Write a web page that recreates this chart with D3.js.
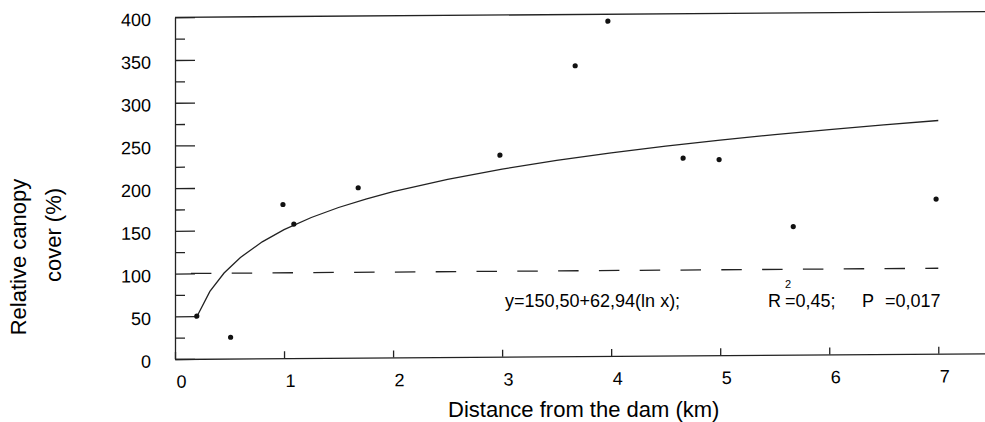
<!DOCTYPE html>
<html>
<head>
<meta charset="utf-8">
<script src="https://cdn.jsdelivr.net/npm/d3@7"></script>
<style>
  body { margin: 0; background: #fff; }
  svg { display: block; }
  text { font-family: "Liberation Sans", Arial, Helvetica, sans-serif; fill: #000; }
</style>
</head>
<body>
<svg id="chart" width="985" height="422"></svg>
<script>

// data

var distance = [0.2, 0.51, 0.99, 1.09, 1.68, 2.98, 3.67, 3.97, 4.66, 4.99, 5.67, 6.98];
var canopy = [50, 25, 180, 157, 199, 236, 340, 392, 231, 229, 150, 181];

// fitted curve y = a + b ln x, from the equation printed on the chart

var fitIntercept = 150.50;
var fitSlope = 62.94;
var fitX = [0.2, 0.32, 0.45, 0.6, 0.8, 1, 1.25, 1.5, 1.75, 2, 2.5, 3, 3.5, 4, 4.5, 5, 5.5, 6, 6.5, 7];

var referenceLevel = 100;
var xTicks = [0, 1, 2, 3, 4, 5, 6, 7];
var yTicks = [0, 50, 100, 150, 200, 250, 300, 350, 400];
var yMinorTicks = [25, 75, 125, 175, 225, 275, 325, 375];

var svg = d3.select('#chart');

// scales

var x = d3.scaleLinear().domain([0, 7.5]).range([175, 992.8]);
var y = d3.scaleLinear().domain([0, 400]).range([359, 17.3]);

// the scanned figure is slightly skewed, so tilt the plot a little

var plot = svg.append('g')
  .attr('transform', 'translate(175,359) skewY(-0.4) translate(-175,-359)');

// y axis, ticks point inwards

var yAxis = plot.append('g')
  .attr('transform', 'translate(' + x(0) + ',0)')
  .call(d3.axisLeft(y).tickValues(yTicks).tickSizeInner(-20).tickSizeOuter(0).tickPadding(24));

yAxis.selectAll('text')
  .attr('dy', null)
  .attr('y', 8)
  .style('font-size', '18px');

var yMinor = plot.append('g')
  .attr('transform', 'translate(' + x(0) + ',0)')
  .call(d3.axisLeft(y).tickValues(yMinorTicks).tickSizeInner(-10).tickSizeOuter(0).tickFormat(''));

yMinor.select('.domain').remove();

// x axis

var xAxis = plot.append('g')
  .attr('transform', 'translate(0,' + y(0) + ')')
  .call(d3.axisBottom(x).tickValues(xTicks).tickSizeInner(-7).tickSizeOuter(0).tickPadding(16));

xAxis.selectAll('text')
  .attr('dx', 6)
  .style('font-size', '18px');

// top frame line

plot.append('line')
  .attr('x1', x(0))
  .attr('x2', x(7.5))
  .attr('y1', y(400))
  .attr('y2', y(400));

plot.selectAll('.domain, .tick line, line')
  .attr('stroke', '#222')
  .attr('stroke-width', 1.3);

// dashed line at 100 %

plot.append('line')
  .attr('x1', x(0))
  .attr('x2', x(7))
  .attr('y1', y(referenceLevel))
  .attr('y2', y(referenceLevel))
  .attr('stroke', '#222')
  .attr('stroke-width', 1.3)
  .attr('stroke-dasharray', '20.5,20.3')
  .attr('stroke-dashoffset', 24.9);

// fitted log curve

var line = d3.line()
  .x(function(d) { return x(d); })
  .y(function(d) { return y(fitIntercept + fitSlope * Math.log(d)); });

plot.append('path')
  .datum(fitX)
  .attr('d', line)
  .attr('fill', 'none')
  .attr('stroke', '#222')
  .attr('stroke-width', 1.3);

// the measured points

plot.selectAll('.dot')
  .data(distance)
  .enter().append('circle')
  .attr('class', 'dot')
  .attr('cx', function(d) { return x(d); })
  .attr('cy', function(d, i) { return y(canopy[i]); })
  .attr('r', 2.6)
  .attr('fill', '#111');

// equation and stats

svg.append('text')
  .attr('x', 505).attr('y', 307)
  .style('font-size', '18px')
  .text('y=150,50+62,94(ln x);');

svg.append('text')
  .attr('x', 768).attr('y', 307)
  .style('font-size', '18px')
  .text('R');

svg.append('text')
  .attr('x', 785).attr('y', 288)
  .style('font-size', '11px')
  .text('2');

svg.append('text')
  .attr('x', 785).attr('y', 307)
  .style('font-size', '18px')
  .text('=0,45;');

svg.append('text')
  .attr('x', 862).attr('y', 307)
  .style('font-size', '18px')
  .text('P');

svg.append('text')
  .attr('x', 885).attr('y', 307)
  .style('font-size', '18px')
  .text('=0,017');

// axis titles

svg.append('text')
  .attr('x', 448).attr('y', 417)
  .style('font-size', '22px')
  .text('Distance from the dam (km)');

svg.append('text')
  .attr('transform', 'translate(26,257) rotate(-90)')
  .attr('text-anchor', 'middle')
  .style('font-size', '22px')
  .text('Relative canopy');

svg.append('text')
  .attr('transform', 'translate(61,235) rotate(-90)')
  .attr('text-anchor', 'middle')
  .style('font-size', '22px')
  .text('cover (%)');

</script>
</body>
</html>
